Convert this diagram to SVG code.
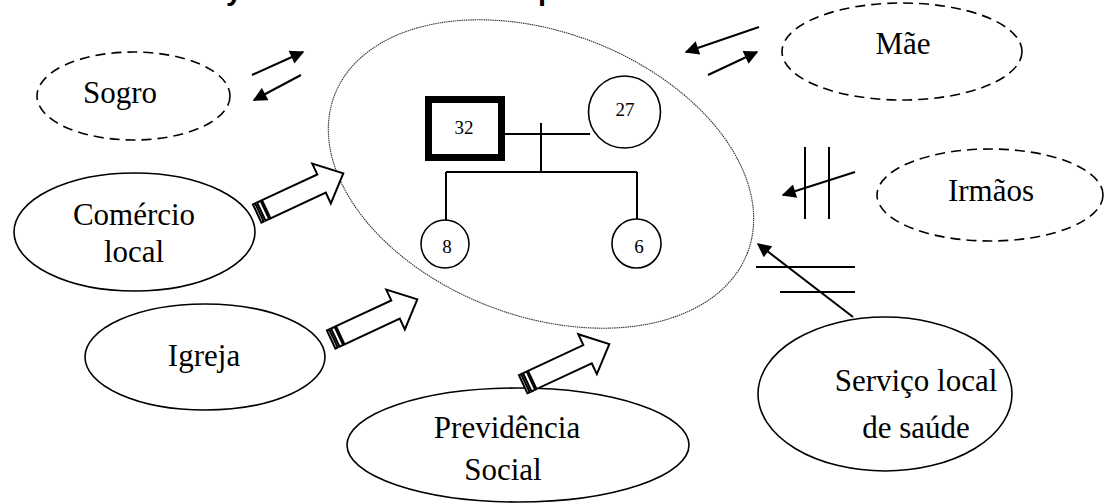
<svg xmlns="http://www.w3.org/2000/svg" width="1107" height="504" viewBox="0 0 1107 504">
<style>
.lbl{font-family:"Liberation Serif","Times New Roman",serif;font-size:31px;fill:#000;text-anchor:middle}
.num{font-family:"Liberation Serif","Times New Roman",serif;font-size:19px;fill:#000;text-anchor:middle}
.ttl{font-family:"Liberation Sans",Arial,sans-serif;font-size:29px;font-weight:bold;fill:#000}
.solid{fill:#fff;stroke:#000;stroke-width:1.6}
.dash{fill:#fff;stroke:#000;stroke-width:1.6;stroke-dasharray:10 6}
.ln{stroke:#000;stroke-width:2;fill:none}
.blk{fill:#fff;stroke:#000;stroke-width:2;stroke-linejoin:miter}
</style>
<defs>
<marker id="ah" viewBox="0 0 10 10" refX="9" refY="5" markerWidth="8" markerHeight="7" markerUnits="strokeWidth" orient="auto">
<path d="M0,0 L10,5 L0,10 z" fill="#000"/>
</marker>
<g id="bigarrow">
<rect x="0" y="-10" width="2.5" height="20" class="blk"/>
<rect x="4.5" y="-10" width="4" height="20" class="blk"/>
<path d="M10,-10 L71,-10 L71,-22 L95,0 L71,22 L71,10 L10,10 Z" class="blk"/>
</g>
</defs>
<rect width="1107" height="504" fill="#fff"/>
<text class="ttl" x="226" y="0">y</text>
<text class="ttl" x="538" y="0">p</text>

<g id="family">
<ellipse cx="541" cy="174" rx="221" ry="142" transform="rotate(20.8 541 174)" fill="none" stroke="#333" stroke-width="1.1" stroke-dasharray="1.5 0.7"/>
<g id="genogram">
<line x1="505" y1="134" x2="590" y2="134" class="ln"/>
<line x1="541" y1="123" x2="541" y2="172" class="ln"/>
<line x1="446" y1="172" x2="637" y2="172" class="ln"/>
<line x1="446" y1="172" x2="446" y2="220" class="ln"/>
<line x1="637" y1="172" x2="637" y2="220" class="ln"/>
<rect x="428.5" y="99.5" width="73" height="58" fill="#fff" stroke="#000" stroke-width="7"/>
<text class="num" x="464" y="134">32</text>
<circle cx="624.5" cy="112" r="36" class="solid"/>
<text class="num" x="625" y="116">27</text>
<circle cx="445" cy="244" r="24" class="solid"/>
<text class="num" x="447" y="253">8</text>
<circle cx="636.5" cy="243.5" r="24.5" class="solid"/>
<text class="num" x="639" y="253">6</text>
</g>
</g>

<g id="sogro">
<ellipse cx="133.5" cy="96" rx="96.5" ry="44" class="dash"/>
<text class="lbl" x="120" y="103">Sogro</text>
</g>
<g id="mae">
<ellipse cx="902" cy="51.5" rx="120" ry="48.5" class="dash"/>
<text class="lbl" x="903" y="54">Mãe</text>
</g>
<g id="irmaos">
<ellipse cx="990" cy="195" rx="113" ry="46" class="dash"/>
<text class="lbl" x="991" y="201">Irmãos</text>
</g>
<g id="comercio">
<ellipse cx="134.5" cy="232" rx="120.5" ry="59" class="solid"/>
<text class="lbl" x="134" y="225">Comércio</text>
<text class="lbl" x="134" y="262">local</text>
</g>
<g id="igreja">
<ellipse cx="205" cy="357" rx="120" ry="53" class="solid"/>
<text class="lbl" x="204" y="366">Igreja</text>
</g>
<g id="previdencia">
<ellipse cx="518" cy="445" rx="171" ry="57" class="solid"/>
<text class="lbl" x="507" y="438">Previdência</text>
<text class="lbl" x="503" y="480">Social</text>
</g>
<g id="servico">
<ellipse cx="885" cy="394" rx="127" ry="77" class="solid"/>
<text class="lbl" x="916" y="391">Serviço local</text>
<text class="lbl" x="916" y="438">de saúde</text>
</g>

<g id="connectors">
<line x1="252" y1="75" x2="303" y2="52" class="ln" marker-end="url(#ah)"/>
<line x1="301" y1="75" x2="254" y2="100" class="ln" marker-end="url(#ah)"/>
<line x1="759" y1="27" x2="686" y2="52" class="ln" marker-end="url(#ah)"/>
<line x1="708" y1="75" x2="757" y2="52" class="ln" marker-end="url(#ah)"/>
<line x1="805" y1="147" x2="805" y2="219" class="ln"/>
<line x1="829" y1="147" x2="829" y2="219" class="ln"/>
<line x1="855" y1="172" x2="783" y2="195" class="ln" marker-end="url(#ah)"/>
<line x1="756" y1="267" x2="855" y2="267" class="ln"/>
<line x1="780" y1="292" x2="855" y2="292" class="ln"/>
<line x1="853" y1="317" x2="758" y2="244" class="ln" marker-end="url(#ah)"/>
<use href="#bigarrow" transform="translate(257.2 213.5) rotate(-25)"/>
<use href="#bigarrow" transform="translate(331.2 339.5) rotate(-25)"/>
<use href="#bigarrow" transform="translate(523.2 384.2) rotate(-25)"/>
</g>
</svg>
